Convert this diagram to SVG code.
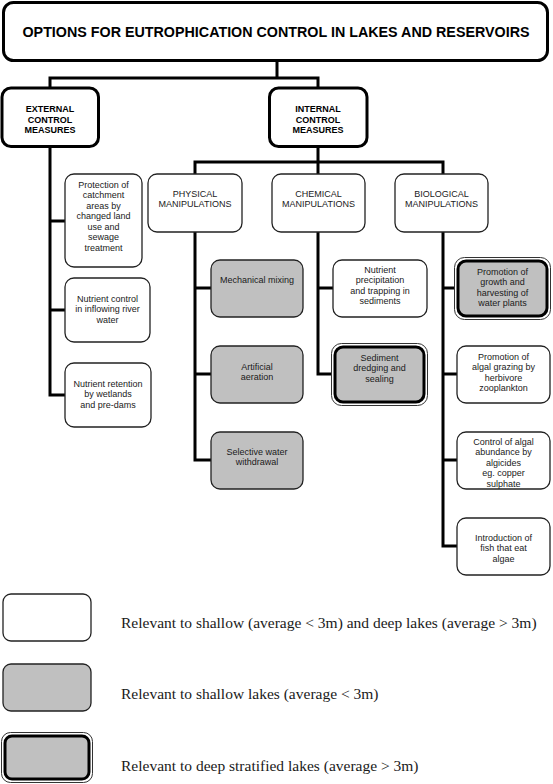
<svg xmlns="http://www.w3.org/2000/svg" width="553" height="784" viewBox="0 0 553 784">
<style>
  .main{fill:#fff;stroke:#000;stroke-width:3}
  .node{fill:#fff;stroke:#222;stroke-width:1.3}
  .gray{fill:#c0c0c0;stroke:#222;stroke-width:1.3}
  .outer{fill:#fff;stroke:#333;stroke-width:1}
  .inner{fill:#c0c0c0;stroke:#000;stroke-width:3}
  .conn{fill:none;stroke:#000;stroke-width:3}
  text{font-family:"Liberation Sans",Arial,sans-serif;fill:#1a1a1a;text-anchor:middle}
  .t{font-size:9px}
  .b{font-size:9px;font-weight:bold;fill:#000}
  .title{font-size:14.3px;font-weight:bold;fill:#000}
  .leg{font-family:"Liberation Serif","Times New Roman",serif;font-size:15.5px;text-anchor:start}
</style>
<rect width="553" height="784" fill="#fff"/>
<g id="connectors">
  <path class="conn" d="M277,61 V78 M50,88 V78 H318 V88"/>
  <path class="conn" d="M50,147 V395 H65 M50,221 H65 M50,310 H65"/>
  <path class="conn" d="M318,146 V162 M195,174 V162 H443 V174 M318,162 V174"/>
  <path class="conn" d="M195,232 V460 H211 M195,288 H211 M195,374 H211"/>
  <path class="conn" d="M318,232 V374 H331 M318,288 H333"/>
  <path class="conn" d="M443,232 V546 H457 M443,288 H454 M443,374 H457 M443,460 H457"/>
</g>
<g id="title">
  <rect class="main" x="3.5" y="2.5" width="544" height="58" rx="10"/>
  <text class="title" x="276" y="37">OPTIONS FOR EUTROPHICATION CONTROL IN LAKES AND RESERVOIRS</text>
</g>
<g id="external">
  <rect class="main" x="2" y="88" width="96.5" height="58.5" rx="9"/>
  <text class="b" x="50" y="112.3">EXTERNAL</text>
  <text class="b" x="50" y="122.5">CONTROL</text>
  <text class="b" x="50" y="132.7">MEASURES</text>
</g>
<g id="internal">
  <rect class="main" x="269.5" y="88" width="97.5" height="58.5" rx="9"/>
  <text class="b" x="318" y="112.3">INTERNAL</text>
  <text class="b" x="318" y="122.5">CONTROL</text>
  <text class="b" x="318" y="132.7">MEASURES</text>
</g>
<g id="protection">
  <rect class="node" x="65" y="174" width="77" height="93" rx="9"/>
  <text class="t" x="103.5" y="187.5">Protection of</text>
  <text class="t" x="103.5" y="198">catchment</text>
  <text class="t" x="103.5" y="208.5">areas by</text>
  <text class="t" x="103.5" y="219">changed land</text>
  <text class="t" x="103.5" y="229.5">use and</text>
  <text class="t" x="103.5" y="240">sewage</text>
  <text class="t" x="103.5" y="250.5">treatment</text>
</g>
<g id="nutrient-control">
  <rect class="node" x="65" y="278" width="85" height="64" rx="9"/>
  <text class="t" x="107.5" y="301.5">Nutrient control</text>
  <text class="t" x="107.5" y="312">in inflowing river</text>
  <text class="t" x="107.5" y="322.5">water</text>
</g>
<g id="nutrient-retention">
  <rect class="node" x="65" y="363" width="86" height="64" rx="9"/>
  <text class="t" x="108" y="386.5">Nutrient retention</text>
  <text class="t" x="108" y="397">by wetlands</text>
  <text class="t" x="108" y="407.5">and pre-dams</text>
</g>
<g id="physical">
  <rect class="node" x="148" y="174" width="94" height="58" rx="9"/>
  <text class="t" x="195" y="196.5">PHYSICAL</text>
  <text class="t" x="195" y="207">MANIPULATIONS</text>
</g>
<g id="chemical">
  <rect class="node" x="272" y="174" width="93" height="58" rx="9"/>
  <text class="t" x="318.5" y="196.5">CHEMICAL</text>
  <text class="t" x="318.5" y="207">MANIPULATIONS</text>
</g>
<g id="biological">
  <rect class="node" x="395" y="174" width="93" height="58" rx="9"/>
  <text class="t" x="441.5" y="196.5">BIOLOGICAL</text>
  <text class="t" x="441.5" y="207">MANIPULATIONS</text>
</g>
<g id="mechanical-mixing">
  <rect class="gray" x="211" y="260" width="92" height="57" rx="9"/>
  <text class="t" x="257" y="282.5">Mechanical mixing</text>
</g>
<g id="artificial-aeration">
  <rect class="gray" x="211" y="346" width="92" height="57" rx="9"/>
  <text class="t" x="257" y="369.5">Artificial</text>
  <text class="t" x="257" y="380">aeration</text>
</g>
<g id="selective-withdrawal">
  <rect class="gray" x="211" y="432" width="92" height="57" rx="9"/>
  <text class="t" x="257" y="454.5">Selective water</text>
  <text class="t" x="257" y="465">withdrawal</text>
</g>
<g id="nutrient-precipitation">
  <rect class="node" x="333" y="260" width="94" height="57" rx="9"/>
  <text class="t" x="380" y="272.5">Nutrient</text>
  <text class="t" x="380" y="283">precipitation</text>
  <text class="t" x="380" y="293.5">and trapping in</text>
  <text class="t" x="380" y="304">sediments</text>
</g>
<g id="sediment-dredging">
  <rect class="outer" x="331.5" y="343.5" width="96" height="62" rx="10"/>
  <rect class="inner" x="335" y="347" width="89" height="55" rx="8"/>
  <text class="t" x="379.5" y="360.5">Sediment</text>
  <text class="t" x="379.5" y="371">dredging and</text>
  <text class="t" x="379.5" y="381.5">sealing</text>
</g>
<g id="water-plants">
  <rect class="outer" x="454.5" y="257.5" width="96" height="62" rx="10"/>
  <rect class="inner" x="458" y="261" width="89" height="55" rx="8"/>
  <text class="t" x="502.5" y="274.5">Promotion of</text>
  <text class="t" x="502.5" y="285">growth and</text>
  <text class="t" x="502.5" y="295.5">harvesting of</text>
  <text class="t" x="502.5" y="306">water plants</text>
</g>
<g id="algal-grazing">
  <rect class="node" x="457" y="346" width="93" height="57" rx="9"/>
  <text class="t" x="503.5" y="359.5">Promotion of</text>
  <text class="t" x="503.5" y="370">algal grazing by</text>
  <text class="t" x="503.5" y="380.5">herbivore</text>
  <text class="t" x="503.5" y="391">zooplankton</text>
</g>
<g id="algicides">
  <rect class="node" x="457" y="432" width="93" height="57" rx="9"/>
  <text class="t" x="503.5" y="444.5">Control of algal</text>
  <text class="t" x="503.5" y="455">abundance by</text>
  <text class="t" x="503.5" y="465.5">algicides</text>
  <text class="t" x="503.5" y="476">eg. copper</text>
  <text class="t" x="503.5" y="486.5">sulphate</text>
</g>
<g id="fish">
  <rect class="node" x="457" y="518" width="93" height="57" rx="9"/>
  <text class="t" x="503.5" y="540.5">Introduction of</text>
  <text class="t" x="503.5" y="551">fish that eat</text>
  <text class="t" x="503.5" y="561.5">algae</text>
</g>
<g id="legend-white">
  <rect class="node" x="3" y="594" width="88" height="47" rx="8"/>
  <text class="leg" x="121" y="628">Relevant to shallow (average &lt; 3m) and deep lakes (average &gt; 3m)</text>
</g>
<g id="legend-gray">
  <rect class="gray" x="3" y="664" width="88" height="47" rx="8"/>
  <text class="leg" x="121" y="699">Relevant to shallow lakes (average &lt; 3m)</text>
</g>
<g id="legend-double">
  <rect class="outer" x="1.5" y="732.5" width="91" height="50" rx="9"/>
  <rect class="inner" x="5" y="736" width="84" height="43" rx="7"/>
  <text class="leg" x="121" y="771">Relevant to deep stratified lakes (average &gt; 3m)</text>
</g>
</svg>
